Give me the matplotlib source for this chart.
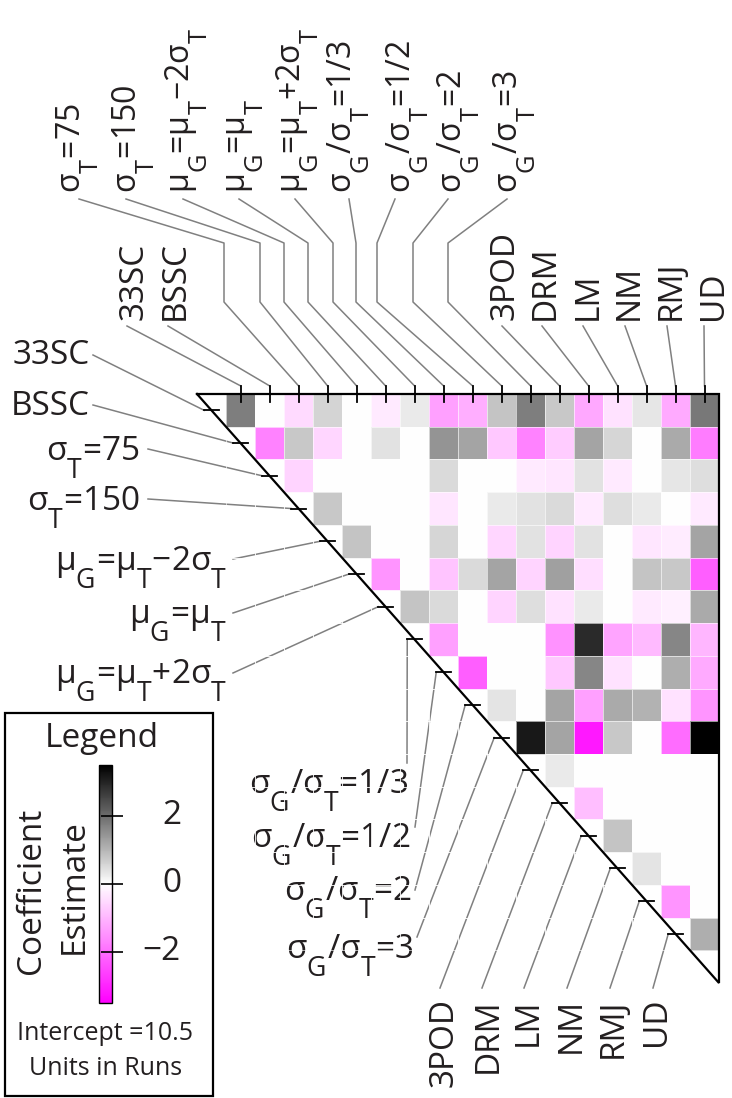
import numpy as np
import matplotlib
matplotlib.use('Agg')
import matplotlib.pyplot as plt
from matplotlib.colors import LinearSegmentedColormap, Normalize
from matplotlib.cm import ScalarMappable
from matplotlib.patches import Rectangle

try:
    import matplotlib._mathtext as _mt
    _mt.FontConstantsBase.sub1 = 1.05
    _mt.SHRINK_FACTOR = 0.8
except Exception:
    pass

plt.rcParams['font.family'] = ['Open Sans', 'DejaVu Sans']
plt.rcParams['mathtext.fontset'] = 'custom'
plt.rcParams['mathtext.rm'] = 'Open Sans'
plt.rcParams['mathtext.it'] = 'Open Sans'
plt.rcParams['mathtext.bf'] = 'Open Sans'

# ---------------- data ----------------
factors = ['33SC', 'BSSC',
           r'$\mathrm{σ_T}$=75', r'$\mathrm{σ_T}$=150',
           r'$\mathrm{μ_G}$=$\mathrm{μ_T}$−2$\mathrm{σ_T}$',
           r'$\mathrm{μ_G}$=$\mathrm{μ_T}$',
           r'$\mathrm{μ_G}$=$\mathrm{μ_T}$+2$\mathrm{σ_T}$',
           r'$\mathrm{σ_G}$/$\mathrm{σ_T}$=1/3', r'$\mathrm{σ_G}$/$\mathrm{σ_T}$=1/2',
           r'$\mathrm{σ_G}$/$\mathrm{σ_T}$=2', r'$\mathrm{σ_G}$/$\mathrm{σ_T}$=3',
           '3POD', 'DRM', 'LM', 'NM', 'RMJ', 'UD']

# upper-triangle coefficient estimates, row i starts at column i (diagonal = main effect)
row_33SC = [1.75, 0, -0.5, 0.6, 0, -0.3, 0.3, -1.3, -1.1, 0.8, 1.75, 0.75, -1.2, -0.4, 0.35, -1.15, 1.85]
row_BSSC = [-1.7, 0.75, -0.55, 0, 0.4, 0, 1.45, 1.25, -0.75, -1.7, -0.7, 1.25, 0.55, 0, 1.15, -1.8]
row_sT75 = [-0.6, 0, 0, 0, 0, 0.5, 0, 0, -0.3, -0.35, 0.4, -0.3, 0, 0.35, 0.45]
row_sT150 = [0.75, 0, 0, 0, -0.35, 0, 0.3, 0.4, 0.5, -0.3, 0.45, 0.3, 0, -0.3]
row_muLow = [0.8, 0, 0, 0.55, 0, -0.55, 0.4, -0.6, 0.4, 0, -0.35, -0.25, 1.25]
row_muMid = [-1.45, 0, -0.8, 0.5, 1.25, -0.6, 1.3, -0.45, 0, 0.8, 0.75, -2.2]
row_muHigh = [0.8, 0.5, 0, -0.6, 0.45, -0.4, 0.3, 0, -0.3, -0.2, 1.15]
row_sg13 = [-1.3, 0, 0, 0, -1.5, 2.9, -1.25, -0.95, 1.65, -1.0]
row_sg12 = [-2.2, 0, 0, -0.75, 1.65, -0.4, 0, 1.1, -1.15]
row_sg2 = [0.37, 0, 1.25, -1.3, 1.15, 1.05, -0.4, -1.45]
row_sg3 = [3.15, 1.25, -3.15, 0.75, 0, -2.0, 3.5]
row_3POD = [0.3, 0, 0, 0, 0, 0]
row_DRM = [-0.9, 0, 0, 0, 0]
row_LM = [0.8, 0, 0, 0]
row_NM = [0.37, 0, 0]
row_RMJ = [-1.45, 0]
row_UD = [1.1]
rows = [row_33SC, row_BSSC, row_sT75, row_sT150, row_muLow, row_muMid, row_muHigh,
        row_sg13, row_sg12, row_sg2, row_sg3, row_3POD, row_DRM, row_LM, row_NM,
        row_RMJ, row_UD]

cbar_ticks = [-2, 0, 2]
cbar_ticklabels = ['−2', '0', '2']
vlim = 3.5
intercept_text = 'Intercept =10.5'
units_text = 'Units in Runs'

# ---------------- layout ----------------
W, H = 732, 1098
fig = plt.figure(figsize=(W / 100, H / 100), dpi=100)
ov = fig.add_axes([0, 0, 1, 1])
ov.set_xlim(0, W)
ov.set_ylim(H, 0)
ov.axis('off')

n = len(factors)
x0p, x1p, y0p, y1p = 197, 719, 394, 983
ax = fig.add_axes([x0p / W, 1 - y1p / H, (x1p - x0p) / W, (y1p - y0p) / H])
ax.set_xlim(-1.5, n - 0.5)
ax.set_ylim(n + 0.5, -0.5)
ax.axis('off')

cmap = LinearSegmentedColormap.from_list('mw', [(1, 0, 1), (1, 1, 1), (0, 0, 0)])

M = np.full((n, n), np.nan)
for i, r in enumerate(rows):
    M[i, i:] = r
edges = np.arange(n + 1) - 0.5
ax.pcolormesh(edges, edges, np.ma.masked_invalid(M), cmap=cmap, vmin=-vlim, vmax=vlim,
              edgecolors=(1, 1, 1, 0.6), linewidth=0.5)

# triangle outline
ax.plot([-1.5, n - 0.5, n - 0.5, -1.5], [-0.5, -0.5, n + 0.5, -0.5], color='k',
        lw=1.6, clip_on=False, solid_joinstyle='miter')
for j in range(n):
    ax.plot([j, j], [-0.75, -0.25], color='k', lw=1.3, clip_on=False)
    ax.plot([j - 1.25, j - 0.75], [j, j], color='k', lw=1.3, clip_on=False)


def d2p(x, y):
    return ov.transData.inverted().transform(ax.transData.transform((x, y)))


FS = 24
FS_TOP = 23
TC = '#231f20'
LC = '#808080'
LW = 1.1

# --- top labels, upper tier (rotated) ---
top_idx = [2, 3, 4, 5, 6, 7, 8, 9, 10]
top_base_x = [80, 136, 189, 245, 300, 351, 410, 461, 517]
top_start = [79, 126, 183, 239, 295, 349, 395, 448, 507]
top_knee = [224, 260, 284, 308, 333, 356, 377, 413, 448]
for k, j in enumerate(top_idx):
    ov.text(top_base_x[k], 193, factors[j], rotation=90, rotation_mode='anchor',
            ha='left', va='baseline', fontsize=FS_TOP, color=TC)
    tx, ty = d2p(j, -0.75)
    ov.plot([top_start[k], top_knee[k], top_knee[k], tx], [199, 243, 302, ty],
            color=LC, lw=LW)

# --- top labels, lower tier ---
low_idx = [0, 1, 11, 12, 13, 14, 15, 16]
low_base_x = [143, 184, 514, 554, 597, 638, 680, 722]
low_start = [127, 168, 502, 542, 583, 625, 667, 704]
for k, j in enumerate(low_idx):
    ov.text(low_base_x[k], 320, factors[j], rotation=90, rotation_mode='anchor',
            ha='left', va='baseline', fontsize=FS, color=TC)
    tx, ty = d2p(j, -0.75)
    ov.plot([low_start[k], tx], [326, ty], color=LC, lw=LW)

# --- left labels ---
left_idx = [0, 1, 2, 3, 4, 5, 6]
left_right = [90, 90, 140, 140, 227, 227, 227]
left_base = [364, 415, 460, 510, 570, 623, 683]
left_start = [(93, 355), (93, 405), (148, 449), (148, 499), (233, 559), (233, 613), (233, 673)]
for k, i in enumerate(left_idx):
    ov.text(left_right[k], left_base[k], factors[i], ha='right', va='baseline',
            fontsize=FS, color=TC)
    tx, ty = d2p(i - 1.25, i)
    ov.plot([left_start[k][0], tx], [left_start[k][1], ty], color=LC, lw=LW)

# --- lower-left labels ---
ll_idx = [7, 8, 9, 10]
ll_right = [408, 410, 412, 414]
ll_base = [793, 847, 900, 958]
ll_start = [(407, 763), (415, 827), (415, 890), (417, 937)]
for k, i in enumerate(ll_idx):
    ov.text(ll_right[k], ll_base[k], factors[i], ha='right', va='baseline',
            fontsize=FS, color=TC)
    tx, ty = d2p(i - 1.25, i)
    ov.plot([ll_start[k][0], tx], [ll_start[k][1], ty], color=LC, lw=LW)

# --- bottom labels ---
bot_idx = [11, 12, 13, 14, 15, 16]
bot_base_x = [453, 497, 537, 580, 622, 665]
bot_start = [440, 482, 524, 567, 610, 653]
for k, i in enumerate(bot_idx):
    ov.text(bot_base_x[k], 998, factors[i], rotation=90, rotation_mode='anchor',
            ha='right', va='baseline', fontsize=FS, color=TC)
    tx, ty = d2p(i - 1.25, i)
    ov.plot([bot_start[k], tx], [988, ty], color=LC, lw=LW)

# ---------------- legend ----------------
ov.add_patch(Rectangle((5, 713), 208, 383, fill=False, ec='k', lw=1.6))
ov.text(102, 747, 'Legend', ha='center', va='baseline', fontsize=FS, color=TC)
ov.text(40, 891, 'Coefficient', rotation=90, rotation_mode='anchor', ha='center',
        va='baseline', fontsize=FS, color=TC)
ov.text(83, 887, 'Estimate', rotation=90, rotation_mode='anchor', ha='center',
        va='baseline', fontsize=FS, color=TC)
ov.text(105, 1040, intercept_text, ha='center', va='baseline', fontsize=18, color=TC)
ov.text(106, 1075, units_text, ha='center', va='baseline', fontsize=18, color=TC)

cax = fig.add_axes([99 / W, 1 - 1003 / H, 13 / W, (1003 - 765) / H])
cb = fig.colorbar(ScalarMappable(norm=Normalize(-vlim, vlim), cmap=cmap), cax=cax)
cb.outline.set_linewidth(1.0)
cb.set_ticks(cbar_ticks)
cax.yaxis.set_ticks_position('right')
cax.tick_params(axis='y', direction='inout', length=16, width=1.2, labelright=False)
for t, lab in zip(cbar_ticks, cbar_ticklabels):
    _, ty = ov.transData.inverted().transform(cax.transData.transform((0.5, t)))
    ov.text(181, ty, lab, ha='right', va='center', fontsize=FS, color=TC)

fig.savefig('out.png', dpi=100)
